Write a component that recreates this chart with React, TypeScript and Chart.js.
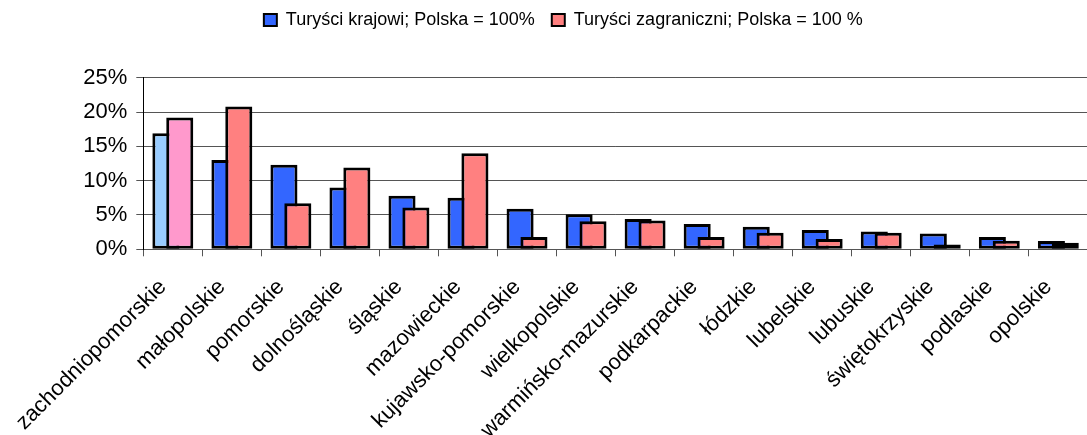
import React, { useEffect, useRef } from 'react';
import { Chart, registerables } from 'chart.js';

Chart.register(...registerables);

const categories = [
  'zachodniopomorskie',
  'małopolskie',
  'pomorskie',
  'dolnośląskie',
  'śląskie',
  'mazowieckie',
  'kujawsko-pomorskie',
  'wielkopolskie',
  'warmińsko-mazurskie',
  'podkarpackie',
  'łódzkie',
  'lubelskie',
  'lubuskie',
  'świętokrzyskie',
  'podlaskie',
  'opolskie',
];

const domesticLabel = 'Turyści krajowi; Polska = 100%';
const foreignLabel = 'Turyści zagraniczni; Polska = 100 %';

const domesticValues = [16.9, 13.0, 12.3, 9.0, 7.8, 7.5, 5.9, 5.1, 4.4, 3.7, 3.3, 2.8, 2.6, 2.3, 1.8, 1.2];
const foreignValues = [19.2, 20.8, 6.7, 11.9, 6.1, 14.0, 1.8, 4.1, 4.2, 1.8, 2.4, 1.5, 2.4, 0.7, 1.25, 0.95];

const yTickValues = [0, 5, 10, 15, 20, 25];

const FONT_FAMILY = "'Liberation Sans', Arial, sans-serif";
const DOMESTIC_COLOR = '#3366FF';
const DOMESTIC_HIGHLIGHT = '#99CCFF';
const FOREIGN_COLOR = '#FF8080';
const FOREIGN_HIGHLIGHT = '#FF99CC';
const SERIES_COLORS = [DOMESTIC_COLOR, FOREIGN_COLOR];
const GRID_COLOR = '#555555';

const CANVAS_W = 1095;
const CANVAS_H = 435;
const LEGEND_EXTRA = 38.7;

const legendSpacer = {
  id: 'legendSpacer',
  beforeLayout(chart: any) {
    const legend = chart.legend;
    if (legend && !legend.__patched) {
      const orig = legend.fit;
      legend.fit = function () {
        orig.call(this);
        this.height += LEGEND_EXTRA;
      };
      legend.__patched = true;
    }
  },
};

const drawInIndexOrder = {
  id: 'drawInIndexOrder',
  beforeDatasetsDraw(chart: any) {
    for (let i = 0; i < chart.data.datasets.length; i++) {
      const meta = chart.getDatasetMeta(i);
      if (meta && !meta.hidden) meta.controller.draw();
    }
    return false;
  },
};

export default function App() {
  const ref = useRef<HTMLCanvasElement>(null);

  useEffect(() => {
    const canvas = ref.current;
    if (!canvas) return;
    const defaultGen = (Chart.defaults as any).plugins.legend.labels.generateLabels;
    const chart = new Chart(canvas, {
      type: 'bar',
      data: {
        labels: categories,
        datasets: [
          {
            label: domesticLabel,
            data: domesticValues,
            backgroundColor: domesticValues.map((_, i) => (i === 0 ? DOMESTIC_HIGHLIGHT : DOMESTIC_COLOR)),
            borderColor: '#000000',
            borderWidth: 3,
            borderSkipped: false,
          },
          {
            label: foreignLabel,
            data: foreignValues,
            backgroundColor: foreignValues.map((_, i) => (i === 0 ? FOREIGN_HIGHLIGHT : FOREIGN_COLOR)),
            borderColor: '#000000',
            borderWidth: 3,
            borderSkipped: false,
          },
        ],
      },
      options: {
        responsive: false,
        animation: false,
        devicePixelRatio: 1,
        layout: { padding: { top: -6, left: 31.6, right: 0, bottom: 0 } },
        datasets: {
          bar: { categoryPercentage: 0.47, barPercentage: 1.95 },
        },
        scales: {
          x: {
            grid: {
              display: true,
              drawOnChartArea: false,
              drawTicks: true,
              tickLength: 7,
              color: GRID_COLOR,
              offset: true,
            },
            border: { color: GRID_COLOR, width: 1 },
            ticks: {
              autoSkip: false,
              minRotation: 45,
              maxRotation: 45,
              padding: 18,
              labelOffset: -10,
              color: '#000000',
              font: { family: FONT_FAMILY, size: 22 },
            },
            afterFit: (scale: any) => {
              scale.height = CANVAS_H - 249.3;
            },
          },
          y: {
            min: 0,
            max: 25,
            grid: {
              color: GRID_COLOR,
              drawTicks: true,
              tickLength: 7,
            },
            border: { color: '#000000', width: 1 },
            ticks: {
              stepSize: 5,
              padding: 9,
              color: '#000000',
              font: { family: FONT_FAMILY, size: 22 },
              callback: (v: any) => `${v}%`,
            },
            afterBuildTicks: (scale: any) => {
              scale.ticks = yTickValues.map((v) => ({ value: v }));
            },
            afterFit: (scale: any) => {
              scale.width = 111.7;
            },
          },
        },
        plugins: {
          legend: {
            display: true,
            position: 'top',
            labels: {
              boxWidth: 13,
              boxHeight: 12,
              padding: 17,
              color: '#000000',
              font: { family: FONT_FAMILY, size: 18 },
              generateLabels: (c: any) =>
                defaultGen(c).map((item: any) => ({
                  ...item,
                  fillStyle: SERIES_COLORS[item.datasetIndex],
                  strokeStyle: '#000000',
                  lineWidth: 2,
                })),
            },
          },
          tooltip: { enabled: false },
        },
      },
      plugins: [legendSpacer, drawInIndexOrder],
    } as any);
    return () => chart.destroy();
  }, []);

  return (
    <div
      style={{
        position: 'absolute',
        left: 0,
        top: 0,
        width: 1087,
        height: CANVAS_H,
        overflow: 'hidden',
        background: '#ffffff',
      }}
    >
      <canvas ref={ref} width={CANVAS_W} height={CANVAS_H} style={{ display: 'block' }} />
    </div>
  );
}
